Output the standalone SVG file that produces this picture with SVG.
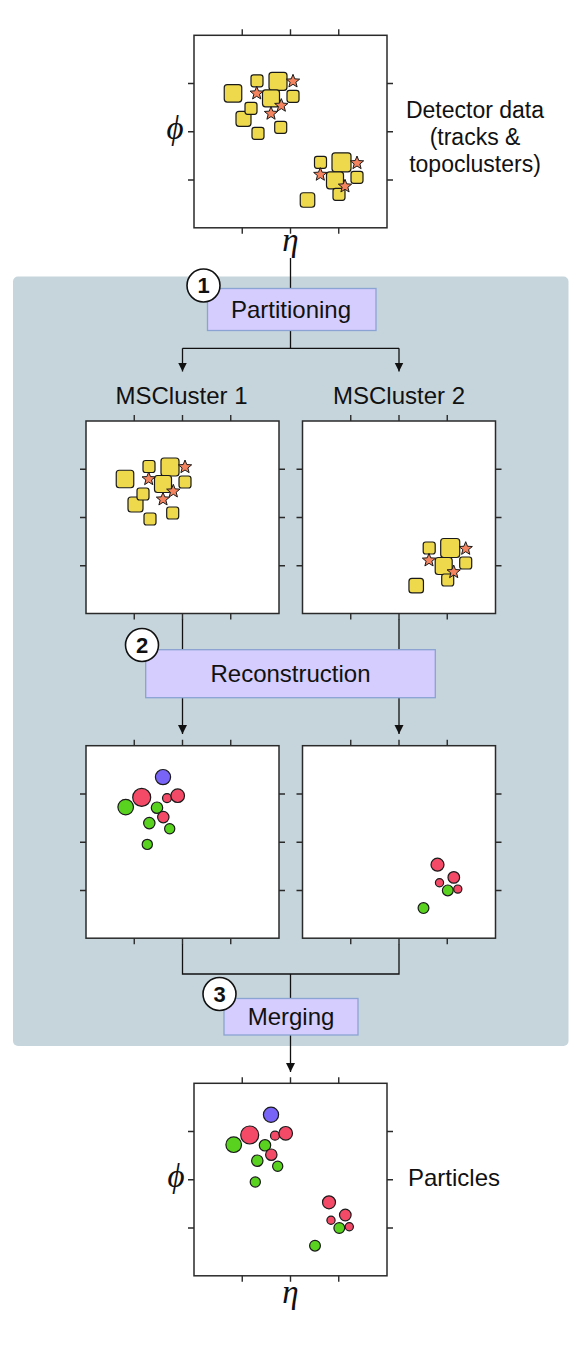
<svg xmlns="http://www.w3.org/2000/svg" xmlns:xlink="http://www.w3.org/1999/xlink" width="582" height="1349" viewBox="0 0 582 1349">
<style>
.frame{fill:#fff;stroke:#2a2a2a;stroke-width:1.5}
.tick{fill:none;stroke:#2a2a2a;stroke-width:1.4}
.sq{fill:#eed84c;stroke:#1a1a1a;stroke-width:1.2}
.st{fill:#f3845f;stroke:#1a1a1a;stroke-width:1}
.r{fill:#f44a68;stroke:#1a1a1a;stroke-width:1.2}
.g{fill:#58d21e;stroke:#1a1a1a;stroke-width:1.2}
.b{fill:#7864f6;stroke:#1a1a1a;stroke-width:1.2}
.lbl{font-family:"Liberation Sans",Helvetica,Arial,sans-serif;fill:#111}
.box{fill:#d5cdfd;stroke:#8aa3d3;stroke-width:1.3}
.num{fill:#fff;stroke:#111;stroke-width:1.6}
.numt{font-family:"Liberation Sans",Arial,sans-serif;font-weight:bold;font-size:22px;fill:#111;text-anchor:middle}
.math{font-family:"Liberation Serif","DejaVu Serif",serif;font-style:italic;font-size:33px;fill:#111;text-anchor:middle}
.conn{fill:none;stroke:#111;stroke-width:1.3}
</style>
<defs>
<marker id="arr" markerWidth="10" markerHeight="10" refX="9" refY="4.5" orient="auto" markerUnits="userSpaceOnUse">
<path d="M0,0 L9,4.5 L0,9 Z" fill="#111"/>
</marker>
<path id="star" d="M0,-7 L1.78,-2.45 L6.66,-2.16 L2.87,0.94 L4.11,5.66 L0,3 L-4.11,5.66 L-2.87,0.94 L-6.66,-2.16 L-1.78,-2.45 Z"/>
<g id="axes">
<rect class="frame" x="0" y="0" width="193" height="192.5"/>
<path class="tick" d="M48.25,0v-6M96.5,0v-6M144.75,0v-6M48.25,192.5v6M96.5,192.5v6M144.75,192.5v6M0,48.25h-6M0,96.5h-6M0,144.75h-6M193,48.25h6M193,96.5h6M193,144.75h6"/>
</g>
<g id="sqA">
<rect class="sq" x="30.25" y="49.25" width="17.5" height="17.5" rx="3"/>
<rect class="sq" x="57" y="39.5" width="12" height="12" rx="2.5"/>
<rect class="sq" x="75" y="37" width="18" height="18" rx="3"/>
<rect class="sq" x="68.5" y="54.5" width="17" height="17" rx="3"/>
<rect class="sq" x="93" y="55" width="12" height="12" rx="2.5"/>
<rect class="sq" x="42" y="76" width="15" height="15" rx="3"/>
<rect class="sq" x="51" y="67" width="12" height="12" rx="2.5"/>
<rect class="sq" x="58" y="92" width="12" height="12" rx="2.5"/>
<rect class="sq" x="80.7" y="86" width="12" height="12" rx="2.5"/>
<use href="#star" class="st" x="99" y="46"/>
<use href="#star" class="st" x="62.7" y="58"/>
<use href="#star" class="st" x="87.3" y="70.3"/>
<use href="#star" class="st" x="77" y="78.3"/>
</g>
<g id="sqB">
<rect class="sq" x="120.5" y="121" width="12" height="12" rx="2.5"/>
<rect class="sq" x="138" y="117.5" width="19" height="19" rx="3"/>
<rect class="sq" x="132.5" y="136.5" width="17" height="17" rx="3"/>
<rect class="sq" x="157" y="136" width="12" height="12" rx="2.5"/>
<rect class="sq" x="139" y="153" width="12" height="12" rx="2.5"/>
<rect class="sq" x="106.25" y="157.45" width="14.5" height="14.5" rx="3"/>
<use href="#star" class="st" x="163" y="127.7"/>
<use href="#star" class="st" x="126.3" y="139.3"/>
<use href="#star" class="st" x="151" y="151"/>
</g>
<g id="cA">
<circle class="b" cx="77" cy="31.4" r="7.6"/>
<circle class="r" cx="55.7" cy="51.7" r="9"/>
<circle class="g" cx="39.7" cy="61.4" r="7.8"/>
<circle class="r" cx="81" cy="52.4" r="4.5"/>
<circle class="r" cx="91.7" cy="50" r="6.8"/>
<circle class="g" cx="71" cy="62" r="5.7"/>
<circle class="r" cx="77.3" cy="71.4" r="5.7"/>
<circle class="g" cx="63.3" cy="77.4" r="5.7"/>
<circle class="g" cx="83.7" cy="83" r="5.1"/>
<circle class="g" cx="61.3" cy="98.7" r="5.1"/>
</g>
<g id="cB">
<circle class="r" cx="135" cy="119" r="6.5"/>
<circle class="r" cx="151.3" cy="131.7" r="5.8"/>
<circle class="r" cx="137" cy="137" r="4.1"/>
<circle class="g" cx="145.3" cy="144.7" r="5.4"/>
<circle class="r" cx="155.3" cy="143.4" r="4.1"/>
<circle class="g" cx="121" cy="162.4" r="5.4"/>
</g>
</defs>

<g id="panel">
<rect x="13" y="276.5" width="555.5" height="769.5" rx="5" fill="#c6d5dc"/>
</g>

<g id="connectors">
<path class="conn" d="M290.5,258 V348.3"/>
<path class="conn" d="M182.5,348.3 H399"/>
<path class="conn" d="M182.5,348.3 V371.5" marker-end="url(#arr)"/>
<path class="conn" d="M399,348.3 V371.5" marker-end="url(#arr)"/>
<path class="conn" d="M182.5,619 V734" marker-end="url(#arr)"/>
<path class="conn" d="M399,619 V734" marker-end="url(#arr)"/>
<path class="conn" d="M182.5,944 V974 H399 V944"/>
<path class="conn" d="M290.5,974 V1072" marker-end="url(#arr)"/>
</g>

<g id="detector-data">
<g transform="translate(194,35.3)">
<use href="#axes"/>
<use href="#sqA"/>
<use href="#sqB"/>
</g>
<text class="math" x="175" y="139">ϕ</text>
<text class="math" x="290.5" y="251">η</text>
<text class="lbl" font-size="23" text-anchor="middle"><tspan x="475" y="117.7">Detector data</tspan><tspan x="475" y="145">(tracks &amp;</tspan><tspan x="475" y="172.3">topoclusters)</tspan></text>
</g>

<g id="partitioning">
<rect class="box" x="207.5" y="288.5" width="168.5" height="42"/>
<text class="lbl" font-size="24" x="291" y="318" text-anchor="middle">Partitioning</text>
<circle class="num" cx="203.5" cy="285.5" r="16.5"/>
<text class="numt" x="203.5" y="293.3">1</text>
</g>

<g id="mscluster-1">
<text class="lbl" font-size="24" x="181.5" y="403.5" text-anchor="middle">MSCluster 1</text>
<g transform="translate(86,421)">
<use href="#axes"/>
<use href="#sqA"/>
</g>
</g>

<g id="mscluster-2">
<text class="lbl" font-size="24" x="399" y="403.5" text-anchor="middle">MSCluster 2</text>
<g transform="translate(302.5,421)">
<use href="#axes"/>
<g transform="translate(0.2,0)"><use href="#sqB"/></g>
</g>
</g>

<g id="reconstruction">
<rect class="box" x="145.7" y="649.7" width="289.6" height="48"/>
<text class="lbl" font-size="24" x="290.5" y="682" text-anchor="middle">Reconstruction</text>
<circle class="num" cx="142" cy="645" r="16.5"/>
<text class="numt" x="142" y="652.8">2</text>
</g>

<g id="reco-1">
<g transform="translate(86,745.7)">
<use href="#axes"/>
<use href="#cA"/>
</g>
</g>

<g id="reco-2">
<g transform="translate(302.5,745.7)">
<use href="#axes"/>
<use href="#cB"/>
</g>
</g>

<g id="merging">
<rect class="box" x="224" y="998.5" width="134" height="36.5"/>
<text class="lbl" font-size="24" x="291" y="1024.5" text-anchor="middle">Merging</text>
<circle class="num" cx="219.5" cy="994" r="16.5"/>
<text class="numt" x="219.5" y="1001.8">3</text>
</g>

<g id="particles">
<g transform="translate(194,1083.3)">
<use href="#axes"/>
<use href="#cA"/>
<use href="#cB"/>
</g>
<text class="math" x="176" y="1187">ϕ</text>
<text class="math" x="290.5" y="1303">η</text>
<text class="lbl" font-size="24" x="408" y="1186">Particles</text>
</g>
</svg>
